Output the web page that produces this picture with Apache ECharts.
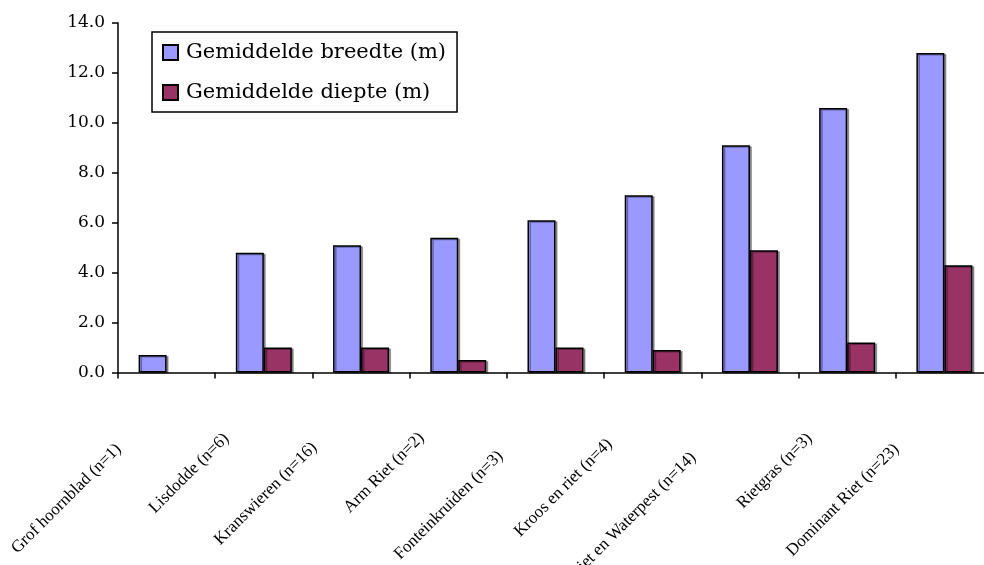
<!DOCTYPE html>
<html>
<head>
<meta charset="utf-8">
<script src="https://cdn.jsdelivr.net/npm/echarts@6/dist/echarts.min.js"></script>
<style>
  html, body { margin: 0; padding: 0; background: #fff; }
  #chart { width: 984px; height: 565px; }
</style>
</head>
<body>
<div id="chart"></div>
<script>
// Vegetation types with sample size
const categories = [
  'Grof hoornblad (n=1)',
  'Lisdodde (n=6)',
  'Kranswieren (n=16)',
  'Arm Riet (n=2)',
  'Fonteinkruiden (n=3)',
  'Kroos en riet (n=4)',
  'Riet en Waterpest (n=14)',
  'Rietgras (n=3)',
  'Dominant Riet (n=23)'
];
const seriesNames = ['Gemiddelde breedte (m)', 'Gemiddelde diepte (m)'];
const breedte = [0.7, 4.8, 5.1, 5.4, 6.1, 7.1, 9.1, 10.6, 12.8];
const diepte = [null, 1.0, 1.0, 0.5, 1.0, 0.9, 4.9, 1.2, 4.3];
const yTicks = [0, 2, 4, 6, 8, 10, 12, 14];

// per-label shift along the slanted baseline
const labelShift = [68, 53, 66, 52, 78, 61, 80, 53, 68];

const chart = echarts.init(document.getElementById('chart'), null, { renderer: 'canvas' });

const barStyle = (color) => ({
  color: color,
  borderColor: '#000',
  borderWidth: 1.5,
  shadowColor: 'rgba(0,0,0,0.35)',
  shadowBlur: 0,
  shadowOffsetX: 2,
  shadowOffsetY: 1
});

chart.setOption({
  animation: false,
  backgroundColor: '#fff',
  grid: { left: 118, top: 23, bottom: 192.5, width: 875, outerBoundsMode: 'none', containLabel: false },
  legend: {
    left: 152,
    top: 32,
    orient: 'vertical',
    padding: [10, 11, 9, 10],
    itemGap: 19,
    itemWidth: 15,
    itemHeight: 15,
    icon: 'rect',
    borderColor: '#000',
    borderWidth: 1.5,
    borderRadius: 0,
    textStyle: { fontFamily: 'DejaVu Serif', fontSize: 21, color: '#000', padding: [0, 0, 0, 3] },
    data: seriesNames
  },
  xAxis: {
    type: 'category',
    data: categories.map((c, i) => ({ value: c, textStyle: { padding: [0, labelShift[i], 0, 0] } })),
    axisLine: { lineStyle: { color: '#000', width: 1.5 } },
    axisTick: { show: true, length: 6, lineStyle: { color: '#000', width: 1.5 } },
    axisLabel: {
      interval: 0,
      rotate: 45,
      margin: 26,
      fontFamily: 'Liberation Serif',
      fontSize: 17,
      color: '#000'
    },
    splitLine: { show: false }
  },
  yAxis: {
    type: 'value',
    min: yTicks[0],
    max: yTicks[yTicks.length - 1],
    interval: yTicks[1] - yTicks[0],
    axisLine: { show: true, lineStyle: { color: '#000', width: 1.5 } },
    axisTick: { show: true, length: 6, lineStyle: { color: '#000', width: 1.5 } },
    axisLabel: {
      margin: 13,
      fontFamily: 'DejaVu Serif',
      fontSize: 17,
      color: '#000',
      formatter: (v) => v.toFixed(1)
    },
    splitLine: { show: false }
  },
  series: [
    {
      name: seriesNames[0],
      type: 'bar',
      data: breedte,
      barWidth: 28,
      barGap: '0%',
      itemStyle: barStyle('#9999FF')
    },
    {
      name: seriesNames[1],
      type: 'bar',
      data: diepte,
      barWidth: 28,
      barGap: '0%',
      itemStyle: barStyle('#993366')
    }
  ]
});
</script>
</body>
</html>
